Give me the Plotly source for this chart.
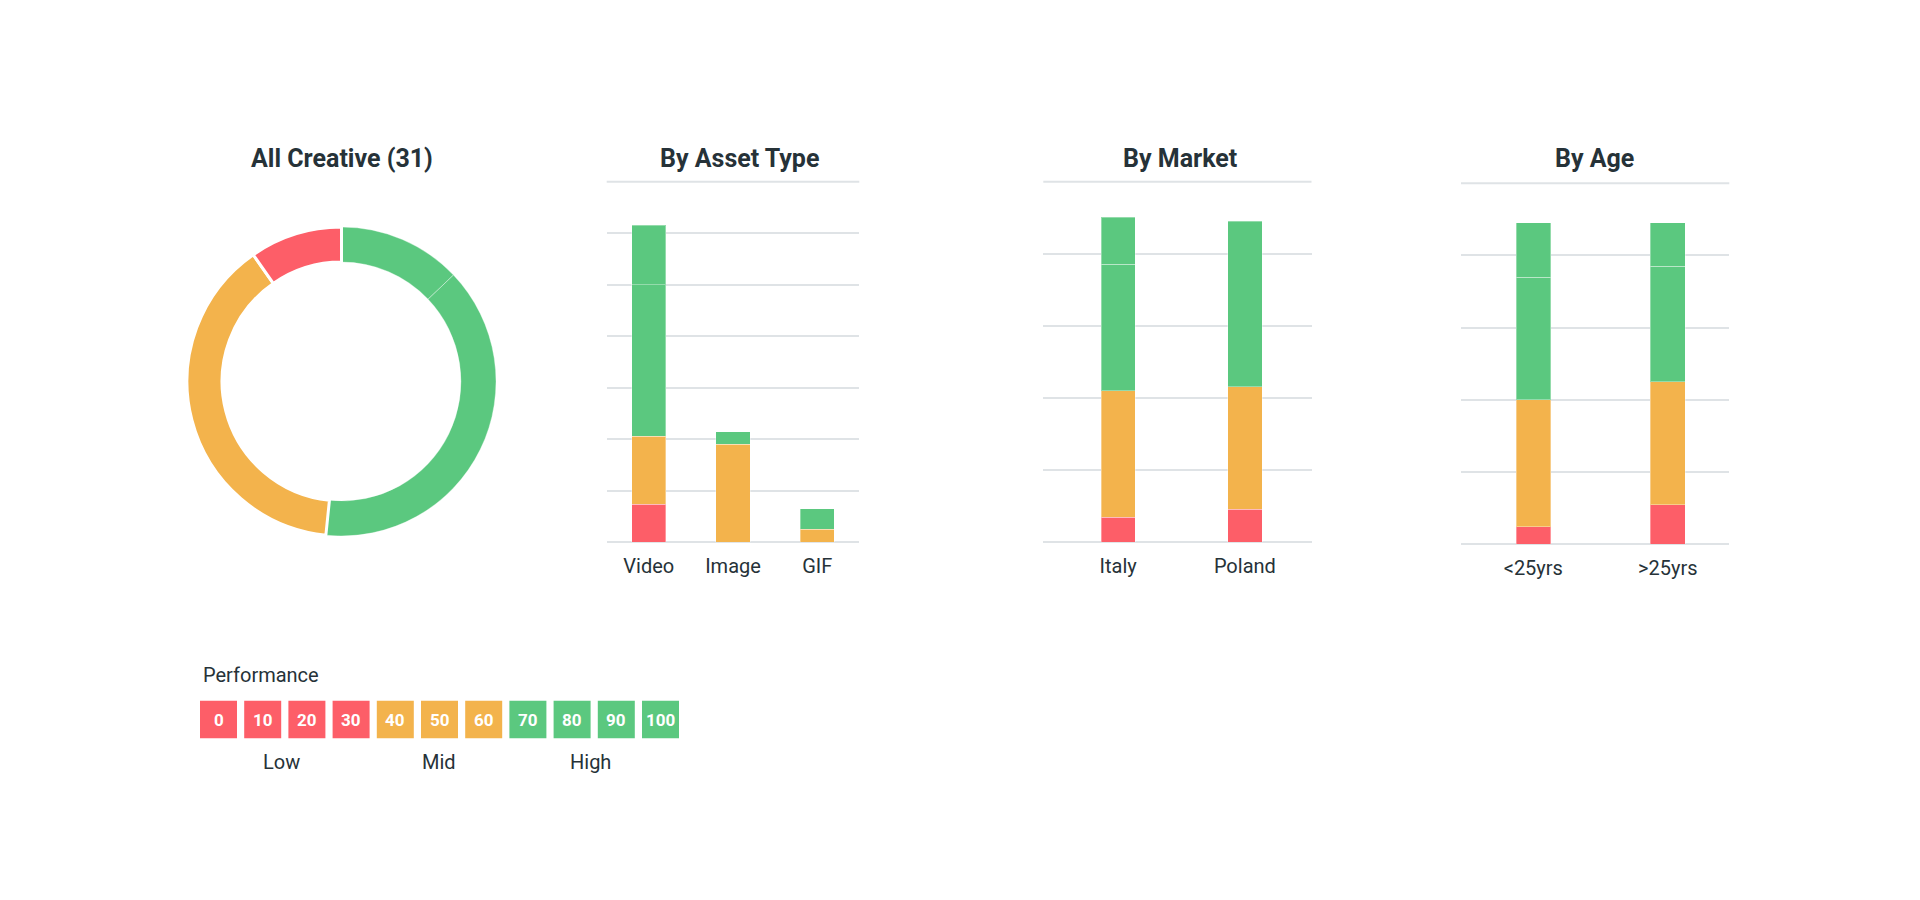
import plotly.graph_objects as go

# ---------------- data ----------------
RED = "#fd5e68"
ORANGE = "#f3b34c"
GREEN = "#5bc87f"

donut_labels = ["High (top)", "High", "Mid", "Low"]
donut_values = [4, 12, 12, 3]
donut_colors = [GREEN, GREEN, ORANGE, RED]

asset_categories = ["Video", "Image", "GIF"]
asset_low = [0.74, None, None]
asset_mid = [1.32, 1.90, 0.25]
asset_high = [2.94, 0.25, 0.40]
asset_top = [1.15, None, None]

market_categories = ["Italy", "Poland"]
market_low = [7.0, 9.1]
market_mid = [35.0, 34.0]
market_high = [35.1, 46.0]
market_top = [13.0, None]

age_categories = ["<25yrs", ">25yrs"]
age_low = [4.8, 10.9]
age_mid = [35.2, 34.1]
age_high = [33.9, 32.0]
age_top = [15.2, 12.1]

legend_values = [0, 10, 20, 30, 40, 50, 60, 70, 80, 90, 100]
legend_colors = [RED] * 4 + [ORANGE] * 3 + [GREEN] * 4
legend_groups = ["Low", "Mid", "High"]

# ---------------- layout helpers ----------------
W, H = 1920, 900
FONT = "Roboto, 'Open Sans', sans-serif"
DARK = "#263238"
GRID = "#dfe3e6"


def px(x):
    return x / W


def py(y):
    return 1 - y / H


fig = go.Figure()

fig.add_trace(go.Pie(
    labels=donut_labels, values=donut_values, hole=0.773, sort=False,
    direction="clockwise", rotation=0, textinfo="none", hoverinfo="label+value",
    marker=dict(colors=donut_colors,
                line=dict(color=["rgba(255,255,255,0.35)", "rgba(255,255,255,0.35)", "white", "white"],
                          width=[1, 1, 3, 3])),
    domain=dict(x=[px(187), px(496)], y=[py(536), py(227)]),
    showlegend=False,
))

seg_line = dict(color="rgba(255,255,255,0.35)", width=1)


def add_stack(cats, series, xa, ya, width):
    for vals, col in zip(series, [RED, ORANGE, GREEN, GREEN]):
        fig.add_trace(go.Bar(x=cats, y=vals, xaxis=xa, yaxis=ya, width=width,
                             marker=dict(color=col, line=seg_line), showlegend=False))


add_stack(asset_categories, [asset_low, asset_mid, asset_high, asset_top], "x", "y", 0.407)
add_stack(market_categories, [market_low, market_mid, market_high, market_top], "x2", "y2", 0.271)
add_stack(age_categories, [age_low, age_mid, age_high, age_top], "x3", "y3", 0.257)

xcommon = dict(showgrid=False, zeroline=False, showline=False, ticks="", ticklabelstandoff=10,
               tickfont=dict(family=FONT, size=20, color=DARK), fixedrange=True)
ycommon = dict(showgrid=True, gridcolor=GRID, gridwidth=2, zeroline=True,
               zerolinecolor=GRID, zerolinewidth=2, showticklabels=False,
               ticks="", showline=False, fixedrange=True)

plots = [  # (x-left, x-right, y-top, y-bottom) in px
    (606.7, 859.3, 181.7, 542.3),
    (1043.3, 1311.5, 181.7, 542.3),
    (1461, 1729.3, 183.3, 544),
]

fig.update_layout(
    width=W, height=H, margin=dict(l=0, r=0, t=0, b=0),
    paper_bgcolor="white", plot_bgcolor="white", barmode="stack",
    font=dict(family=FONT, color=DARK),
    xaxis=dict(domain=[px(plots[0][0]), px(plots[0][1])], range=[-0.5, 2.5], anchor="y", **xcommon),
    yaxis=dict(domain=[py(plots[0][3]), py(plots[0][2])], range=[0, 7], dtick=1, anchor="x", **ycommon),
    xaxis2=dict(domain=[px(plots[1][0]), px(plots[1][1])], range=[-0.591, 1.526], anchor="y2", **xcommon),
    yaxis2=dict(domain=[py(plots[1][3]), py(plots[1][2])], range=[0, 100], dtick=20, anchor="x2", **ycommon),
    xaxis3=dict(domain=[px(plots[2][0]), px(plots[2][1])], range=[-0.538, 1.458], anchor="y3", **xcommon),
    yaxis3=dict(domain=[py(plots[2][3]), py(plots[2][2])], range=[0, 100], dtick=20, anchor="x3", **ycommon),
)

shapes = []
# top gridline of each bar panel
for xl, xr, yt, yb in plots:
    shapes.append(dict(type="line", xref="paper", yref="paper", layer="below",
                       x0=px(xl), x1=px(xr), y0=py(yt), y1=py(yt),
                       line=dict(color=GRID, width=2)))

annotations = []
for text, cx in [("All Creative (31)", 341.7), ("By Asset Type", 739.7),
                 ("By Market", 1180.3), ("By Age", 1594.5)]:
    annotations.append(dict(text=f"<b>{text}</b>", x=px(cx), y=py(159), xref="paper", yref="paper",
                            xanchor="center", yanchor="middle", showarrow=False,
                            font=dict(family=FONT, size=25, color=DARK)))

annotations.append(dict(text="Performance", x=px(200.5), y=py(675), xref="paper", yref="paper",
                        xanchor="left", yanchor="middle", showarrow=False,
                        font=dict(family=FONT, size=20, color=DARK)))

for i, (v, col) in enumerate(zip(legend_values, legend_colors)):
    x0 = 200 + 44.2 * i
    shapes.append(dict(type="rect", xref="paper", yref="paper",
                       x0=px(x0), x1=px(x0 + 37), y0=py(738.3), y1=py(700.7),
                       fillcolor=col, line=dict(width=0)))
    annotations.append(dict(text=f"<b>{v}</b>", x=px(x0 + 18.5), y=py(719.5), xref="paper", yref="paper",
                            xanchor="center", yanchor="middle", showarrow=False,
                            font=dict(family=FONT, size=17, color="white")))

for text, cx in zip(legend_groups, [281, 438.5, 590]):
    annotations.append(dict(text=text, x=px(cx), y=py(762), xref="paper", yref="paper",
                            xanchor="center", yanchor="middle", showarrow=False,
                            font=dict(family=FONT, size=20, color=DARK)))

fig.update_layout(annotations=annotations, shapes=shapes)

fig.write_html("out.html")
